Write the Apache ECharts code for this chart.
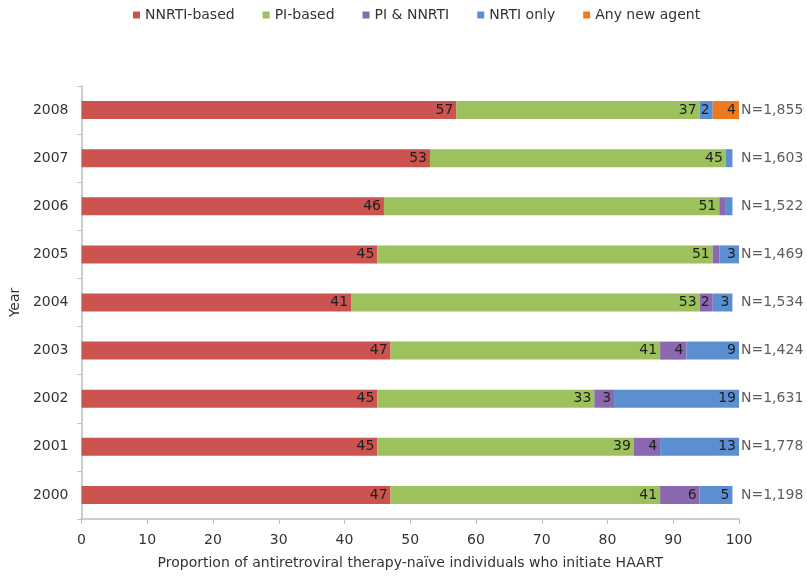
<!DOCTYPE html>
<html><head><meta charset="utf-8">
<script src="https://cdn.jsdelivr.net/npm/echarts@6/dist/echarts.min.js"></script>
<style>html,body{margin:0;padding:0;background:#fff}#c{width:807px;height:576px}</style>
</head><body><div id="c"></div>
<script>
const years = ['2000','2001','2002','2003','2004','2005','2006','2007','2008'];
const nnrti = [47,45,45,47,41,45,46,53,57];
const piBased = [41,39,33,41,53,51,51,45,37];
const piNnrti = [6,4,3,4,2,1,1,0,0];
const nrtiOnly = [5,13,19,9,3,3,1,1,2];
const newAgent = [0,0,0,0,0,0,0,0,4];
const nLabels = ['N=1,198','N=1,778','N=1,631','N=1,424','N=1,534','N=1,469','N=1,522','N=1,603','N=1,855'];
const xTicks = [0,10,20,30,40,50,60,70,80,90,100];

const seriesNames = ['NNRTI-based','PI-based','PI & NNRTI','NRTI only','Any new agent'];
const seriesData = [nnrti, piBased, piNnrti, nrtiOnly, newAgent];
const colors = ['#cb5451','#9dc15c','#8b69ae','#5b8fd1','#ee7a1f'];
const font = 'DejaVu Sans, sans-serif';
const xMax = xTicks[xTicks.length-1];

const chart = echarts.init(document.getElementById('c'));
const barSeries = seriesNames.map((n, k) => ({
  name: n, type: 'bar', stack: 'total', barWidth: 18,
  data: seriesData[k],
  itemStyle: {color: colors[k]},
  label: {
    show: true, position: 'insideRight', distance: 3,
    fontSize: 14, color: '#1e1e1e', fontFamily: font,
    formatter: p => (p.value >= 2 ? String(p.value) : '')
  }
}));
const nSeries = {
  name: 'N', type: 'scatter', silent: true, symbolSize: 0,
  data: years.map((y, i) => [xMax, y, nLabels[i]]),
  label: {
    show: true, position: 'right', distance: 2, align: 'left',
    fontSize: 14, color: '#333', fontFamily: font,
    formatter: p => p.data[2]
  },
  z: 5
};
chart.setOption({
  animation: false,
  color: colors,
  textStyle: {fontFamily: font},
  legend: {
    top: 3, left: 128,
    icon: 'rect', itemWidth: 7, itemHeight: 7, itemGap: 28,
    textStyle: {fontSize: 14, color: '#333', fontFamily: font},
    data: seriesNames
  },
  grid: {left: 80, right: 68, top: 86, bottom: 57, containLabel: false},
  xAxis: {
    type: 'value', min: xTicks[0], max: xMax, interval: 10,
    name: 'Proportion of antiretroviral therapy-naïve individuals who initiate HAART',
    nameLocation: 'middle', nameGap: 37,
    nameTextStyle: {fontSize: 14, color: '#333', fontFamily: font},
    axisLine: {show: true, lineStyle: {color: '#bdbdbd', width: 1.5}},
    axisTick: {show: true, length: 5, lineStyle: {color: '#bdbdbd'}},
    axisLabel: {fontSize: 14, color: '#333', margin: 14, fontFamily: font},
    splitLine: {show: false}
  },
  yAxis: {
    type: 'category', data: years,
    name: 'Year', nameLocation: 'middle', nameGap: 58, nameRotate: 90,
    nameTextStyle: {fontSize: 14, color: '#333', fontFamily: font},
    axisLine: {show: true, lineStyle: {color: '#bdbdbd', width: 1.5}},
    axisTick: {show: true, length: 4, lineStyle: {color: '#bdbdbd'}},
    axisLabel: {fontSize: 14, color: '#333', margin: 13, fontFamily: font}
  },
  series: barSeries.concat([nSeries])
});
</script></body></html>
